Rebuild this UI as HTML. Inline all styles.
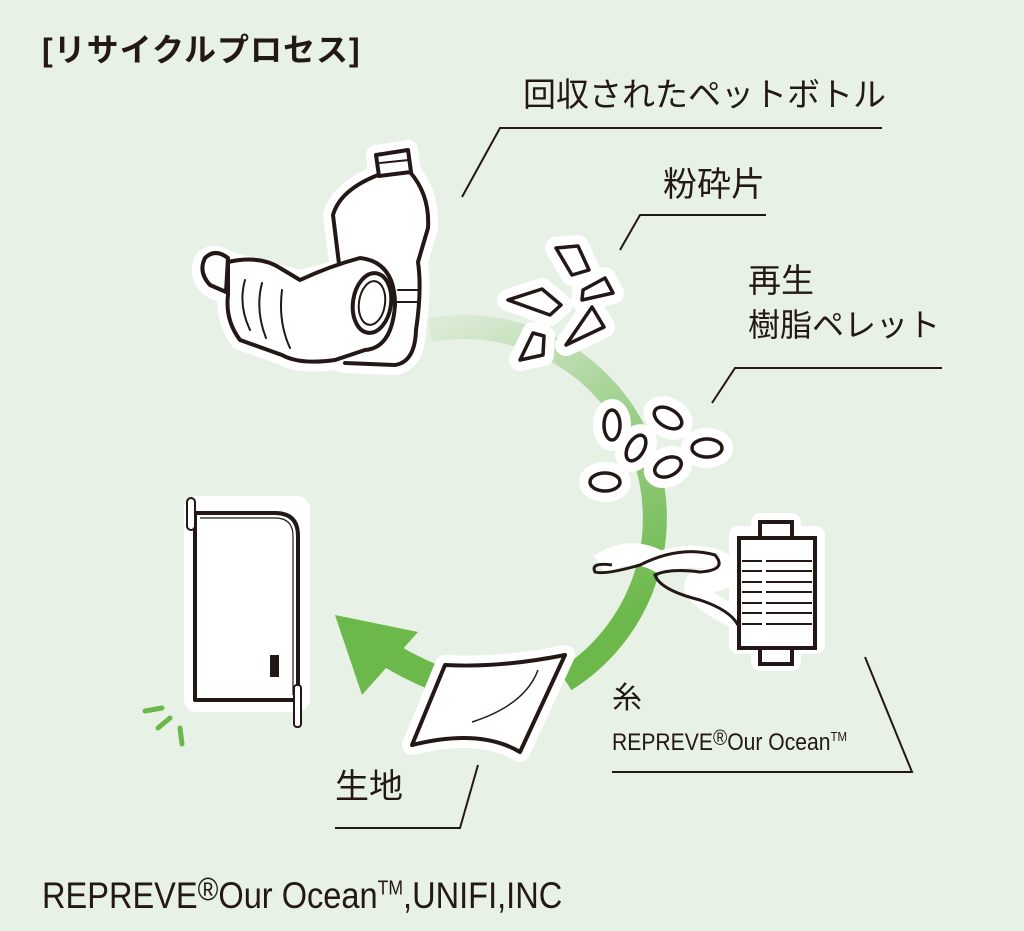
<!DOCTYPE html>
<html><head><meta charset="utf-8"><style>
html,body{margin:0;padding:0}
body{width:1024px;height:931px;background:#e7f1e6;position:relative;overflow:hidden;font-family:"Liberation Sans","Noto Sans CJK JP",sans-serif;color:#231815}
.t{position:absolute;white-space:nowrap;line-height:1}
</style></head><body>
<svg width="1024" height="931" style="position:absolute;left:0;top:0">
<defs>
<linearGradient id="g" x1="0" y1="0" x2="0.3" y2="1">
<stop offset="0" stop-color="#dcebd7"/><stop offset="0.45" stop-color="#9fd08c"/><stop offset="1" stop-color="#6cb84a"/>
</linearGradient>
</defs>
<path d="M430 330 A191 191 0 0 1 565 680" fill="none" stroke="url(#g)" stroke-width="24"/>
<path d="M445 682 Q410 668 390 655" fill="none" stroke="#6cb84a" stroke-width="26"/>
<polygon points="335,615 418,632 362,695" fill="#6cb84a"/>
<g stroke="#231815" stroke-width="2" fill="none">
<polyline points="882,128 500,128 462,197"/>
<polyline points="766,215 640,215 620,250"/>
<polyline points="942,368 735,368 712,403"/>
<polyline points="612,772 912,772 865,657"/>
<polyline points="335,828 460,828 478,765"/>
</g>
<!-- bottles -->
<g stroke-linejoin="round" stroke-linecap="round">
<g stroke="#fff" stroke-width="20" fill="#fff">
<path d="M376 155 L408 150 L411 172 Q430 195 428 228 L418 262 Q422 290 416 330 Q415 362 395 365 L345 363 L335 360 Q300 365 282 355 L240 340 Q225 320 228 295 L215 290 Q198 280 203 262 Q212 250 230 262 L300 280 L340 270 L333 215 Q340 190 378 175 Z"/>
</g>
<g stroke="#231815" stroke-width="4" fill="#fff">
<path d="M340 272 L333 215 Q340 190 378 175 L410 172 Q430 195 428 228 L418 262 Q422 290 416 330 Q415 362 395 365 L345 363"/>
<path d="M376 155 L408 150 L411 172 L379 176 Z"/>
<path d="M380 163 L409 160" fill="none" stroke-width="2"/>
<path d="M228 258 Q215 248 205 258 Q198 272 210 285 L226 292 Z"/>
<path d="M228 262 Q260 255 280 268 L300 280 Q330 266 360 258 Q395 262 395 305 Q392 348 365 350 L335 360 Q300 365 282 355 L240 340 Q225 320 228 295 Z"/>
<ellipse cx="372" cy="303" rx="19" ry="30" transform="rotate(8 372 303)"/>
<path d="M398 290 L418 290 M396 302 L419 302" fill="none" stroke-width="2"/>
</g>
<g stroke="#231815" stroke-width="2" fill="none">
<ellipse cx="372" cy="303" rx="13" ry="22" transform="rotate(8 372 303)"/>
<path d="M245 280 Q238 305 250 330 M262 283 Q255 310 266 338 M282 290 Q278 322 290 348"/>
</g>
</g>
<!-- flakes -->
<g stroke-linejoin="round" fill="#fff">
<g stroke="#fff" stroke-width="22">
<polygon points="556,248 578,246 589,270 572,275"/><polygon points="508,300 542,289 561,305 550,315"/><polygon points="583,290 605,278 613,293 582,300"/><polygon points="592,307 604,327 566,345"/><polygon points="520,360 533,333 544,336 543,355"/>
</g>
<g stroke="#231815" stroke-width="3.5">
<polygon points="556,248 578,246 589,270 572,275"/><polygon points="508,300 542,289 561,305 550,315"/><polygon points="583,290 605,278 613,293 582,300"/><polygon points="592,307 604,327 566,345"/><polygon points="520,360 533,333 544,336 543,355"/>
</g>
</g>
<!-- pellets -->
<g fill="#fff">
<g stroke="#fff" stroke-width="22">
<ellipse cx="612" cy="425" rx="8" ry="15"/><ellipse cx="636" cy="448" rx="8" ry="14" transform="rotate(30 636 448)"/><ellipse cx="668" cy="418" rx="15" ry="9" transform="rotate(30 668 418)"/><ellipse cx="707" cy="448" rx="15" ry="9"/><ellipse cx="668" cy="467" rx="14" ry="9" transform="rotate(-25 668 467)"/><ellipse cx="605" cy="482" rx="15" ry="9"/>
</g>
<g stroke="#231815" stroke-width="3.5">
<ellipse cx="612" cy="425" rx="8" ry="15"/><ellipse cx="636" cy="448" rx="8" ry="14" transform="rotate(30 636 448)"/><ellipse cx="668" cy="418" rx="15" ry="9" transform="rotate(30 668 418)"/><ellipse cx="707" cy="448" rx="15" ry="9"/><ellipse cx="668" cy="467" rx="14" ry="9" transform="rotate(-25 668 467)"/><ellipse cx="605" cy="482" rx="15" ry="9"/>
</g>
</g>
<!-- spool & thread -->
<g fill="#fff" stroke="#fff" stroke-width="18" stroke-linejoin="round">
<rect x="738" y="535" width="78" height="110"/><rect x="760" y="522" width="32" height="140"/>
<path d="M600 565 Q630 545 660 562 Q700 550 725 565 Q730 585 700 580 Q680 590 740 620" fill="none" stroke-width="22"/>
</g>
<g stroke="#231815" stroke-width="3" fill="none">
<path d="M612 565 Q590 562 595 572 Q605 575 640 565 Q680 545 715 555 Q728 570 700 572 Q670 568 655 575 Q660 590 700 600 Q730 610 738 625"/>
</g>
<g stroke="#231815" stroke-width="4" fill="#fff">
<rect x="760" y="522" width="32" height="16"/><rect x="760" y="648" width="32" height="16"/>
<rect x="739" y="538" width="76" height="110"/>
</g>
<g stroke="#231815" stroke-width="2">
<path d="M742 561h20M766 561h46M742 571h20M766 571h46M742 582h20M766 582h46M742 592h20M766 592h46M742 603h20M766 603h46M742 613h20M766 613h46M742 624h20M766 624h46"/>
</g>
<!-- fabric -->
<g stroke-linejoin="round">
<path d="M445 665 Q500 668 565 655 L520 752 Q480 728 412 745 Z" fill="#fff" stroke="#fff" stroke-width="20"/>
<path d="M445 665 Q500 668 565 655 L520 752 Q480 728 412 745 Z" fill="#fff" stroke="#231815" stroke-width="4"/>
<path d="M538 670 Q525 705 472 722" fill="none" stroke="#231815" stroke-width="1.5"/>
</g>
<!-- pouch -->
<g stroke-linejoin="round">
<rect x="193" y="505" width="108" height="198" rx="4" fill="#fff" stroke="#fff" stroke-width="18"/>
<path d="M195 513 L275 513 Q298 513 298 536 L298 700 L195 700 Z" fill="#fff" stroke="#231815" stroke-width="4"/>
<path d="M200 518 L275 518 Q293 518 293 536 L293 695" fill="none" stroke="#231815" stroke-width="1.2"/>
<rect x="187" y="498" width="8" height="32" rx="4" fill="#fff" stroke="#231815" stroke-width="2"/>
<rect x="294" y="685" width="7" height="42" rx="3" fill="#fff" stroke="#231815" stroke-width="2"/>
<rect x="270" y="655" width="9" height="22" fill="#231815"/>
</g>
<g stroke="#6cb84a" stroke-width="5" stroke-linecap="round">
<path d="M145 711 L162 708 M158 728 L170 718 M180 728 L182 744"/>
</g>
</svg>
<div class="t" style="left:42px;top:34px;font-size:32px;font-weight:bold;letter-spacing:1px">[リサイクルプロセス]</div>
<div class="t" style="left:523px;top:78px;font-size:33px">回収されたペットボトル</div>
<div class="t" style="left:663px;top:168px;font-size:34px">粉砕片</div>
<div class="t" style="left:748px;top:264px;font-size:33px">再生</div>
<div class="t" style="left:748px;top:309px;font-size:32px">樹脂ペレット</div>
<div class="t" style="left:612px;top:684px;font-size:30px">糸</div>
<div class="t" style="left:612px;top:727px;font-size:24px;transform:scaleX(0.88);transform-origin:0 0">REPREVE<span style="font-size:22px;vertical-align:5px">®</span>Our Ocean<sup style="font-size:13px">TM</sup></div>
<div class="t" style="left:335px;top:770px;font-size:34px">生地</div>
<div class="t" style="left:42px;top:873px;font-size:37px;transform:scaleX(0.88);transform-origin:0 0">REPREVE<span style="font-size:32px;vertical-align:8px">®</span>Our Ocean<sup style="font-size:20px">TM</sup>,UNIFI,INC</div>
</body></html>
